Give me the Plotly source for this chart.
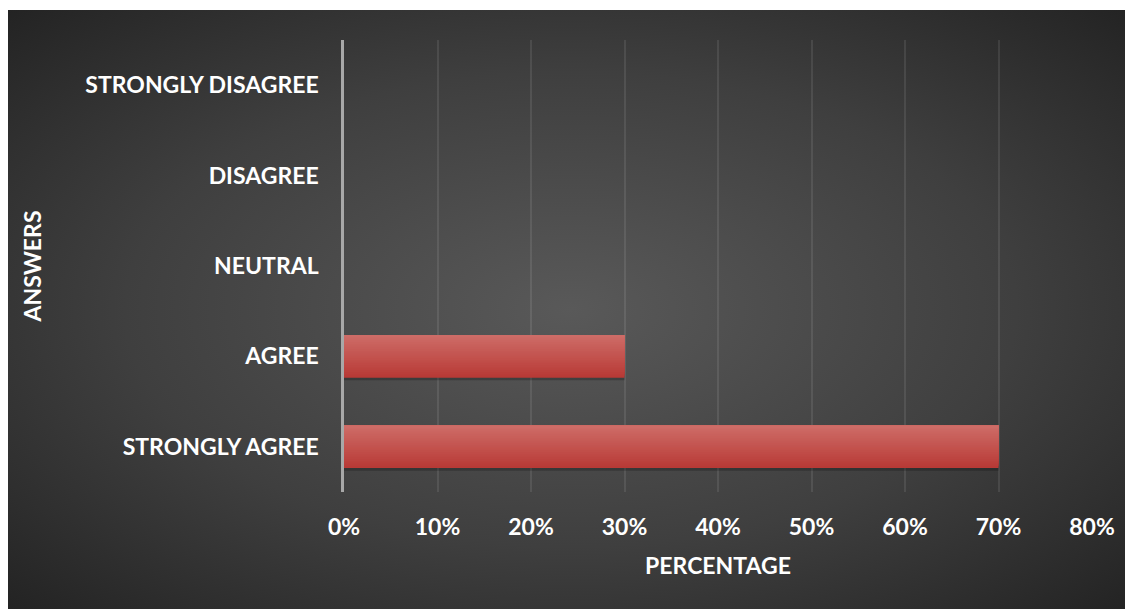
import base64
import plotly.graph_objects as go

categories = ["STRONGLY AGREE", "AGREE", "NEUTRAL", "DISAGREE", "STRONGLY DISAGREE"]
percentages = [0.70, 0.30, 0.0, 0.0, 0.0]
x_ticks = [0, 0.1, 0.2, 0.3, 0.4, 0.5, 0.6, 0.7, 0.8]
x_tick_labels = ["0%", "10%", "20%", "30%", "40%", "50%", "60%", "70%", "80%"]

# page body has an 8px margin, so the figure is sized to fit the window
W, H = 1125, 601
L, R, T, B = 336, 41, 32, 117
pw, ph = W - L - R, H - T - B

FONT = "Lato"
FS = 23

svg = (
    '<svg xmlns="http://www.w3.org/2000/svg" width="1125" height="599" viewBox="0 0 1125 599" preserveAspectRatio="none">'
    '<defs><radialGradient id="g" cx="50%" cy="50%" r="72%" fx="50%" fy="50%">'
    '<stop offset="0%" stop-color="#595959"/><stop offset="55%" stop-color="#3f3f3f"/>'
    '<stop offset="100%" stop-color="#222222"/></radialGradient></defs>'
    '<rect width="1125" height="599" fill="url(#g)"/></svg>'
)
src = "data:image/svg+xml;base64," + base64.b64encode(svg.encode()).decode()

fig = go.Figure()

bar_w = 0.47
# shadow
fig.add_trace(go.Bar(
    y=categories, x=percentages, orientation="h",
    width=bar_w, offset=-bar_w / 2 - 0.03,
    marker=dict(color="rgba(0,0,0,0.22)", line=dict(width=0)),
    hoverinfo="skip", showlegend=False,
))
# gradient layers (styling only): each layer starts higher and reaches the bar top
n = 24
top = (0xCE, 0x6C, 0x67)
bot = (0xB8, 0x3A, 0x36)
for i in range(n):
    t = i / (n - 1)
    c = tuple(round(bot[k] + (top[k] - bot[k]) * t) for k in range(3))
    start = -bar_w / 2 + i * bar_w / n
    fig.add_trace(go.Bar(
        y=categories, x=percentages, orientation="h",
        width=bar_w / 2 - start, offset=start,
        marker=dict(color="rgb(%d,%d,%d)" % c, line=dict(width=0)),
        showlegend=False,
    ))

fig.add_layout_image(dict(
    source=src, xref="paper", yref="paper",
    x=(0 - L) / pw, y=(H - B - 2) / ph,
    sizex=W / pw, sizey=(H - 2) / ph,
    sizing="stretch", xanchor="left", yanchor="top", layer="below",
))

bold = dict(family=FONT, size=FS, color="white", weight="bold")

fig.update_layout(
    width=W, height=H,
    margin=dict(l=L, r=R, t=T, b=B),
    paper_bgcolor="white", plot_bgcolor="rgba(0,0,0,0)",
    barmode="overlay", showlegend=False,
    font=dict(family=FONT, color="white"),
    xaxis=dict(
        range=[0, 0.8], tickvals=x_ticks, ticktext=x_tick_labels,
        showgrid=True, gridcolor="rgba(255,255,255,0.09)", gridwidth=2,
        zeroline=False, showline=False, ticks="",
        tickfont=bold,
        ticklabelstandoff=19,
        title=dict(text="PERCENTAGE", font=bold, standoff=18),
    ),
    yaxis=dict(
        categoryorder="array", categoryarray=categories,
        range=[-0.5, 4.5],
        showgrid=False, zeroline=False,
        showline=True, linecolor="#a8a8a8", linewidth=2.5,
        ticks="", tickfont=bold,
        ticklabelstandoff=18,
        title=dict(text="ANSWERS", font=bold, standoff=38),
    ),
)

fig.write_html("out.html")
